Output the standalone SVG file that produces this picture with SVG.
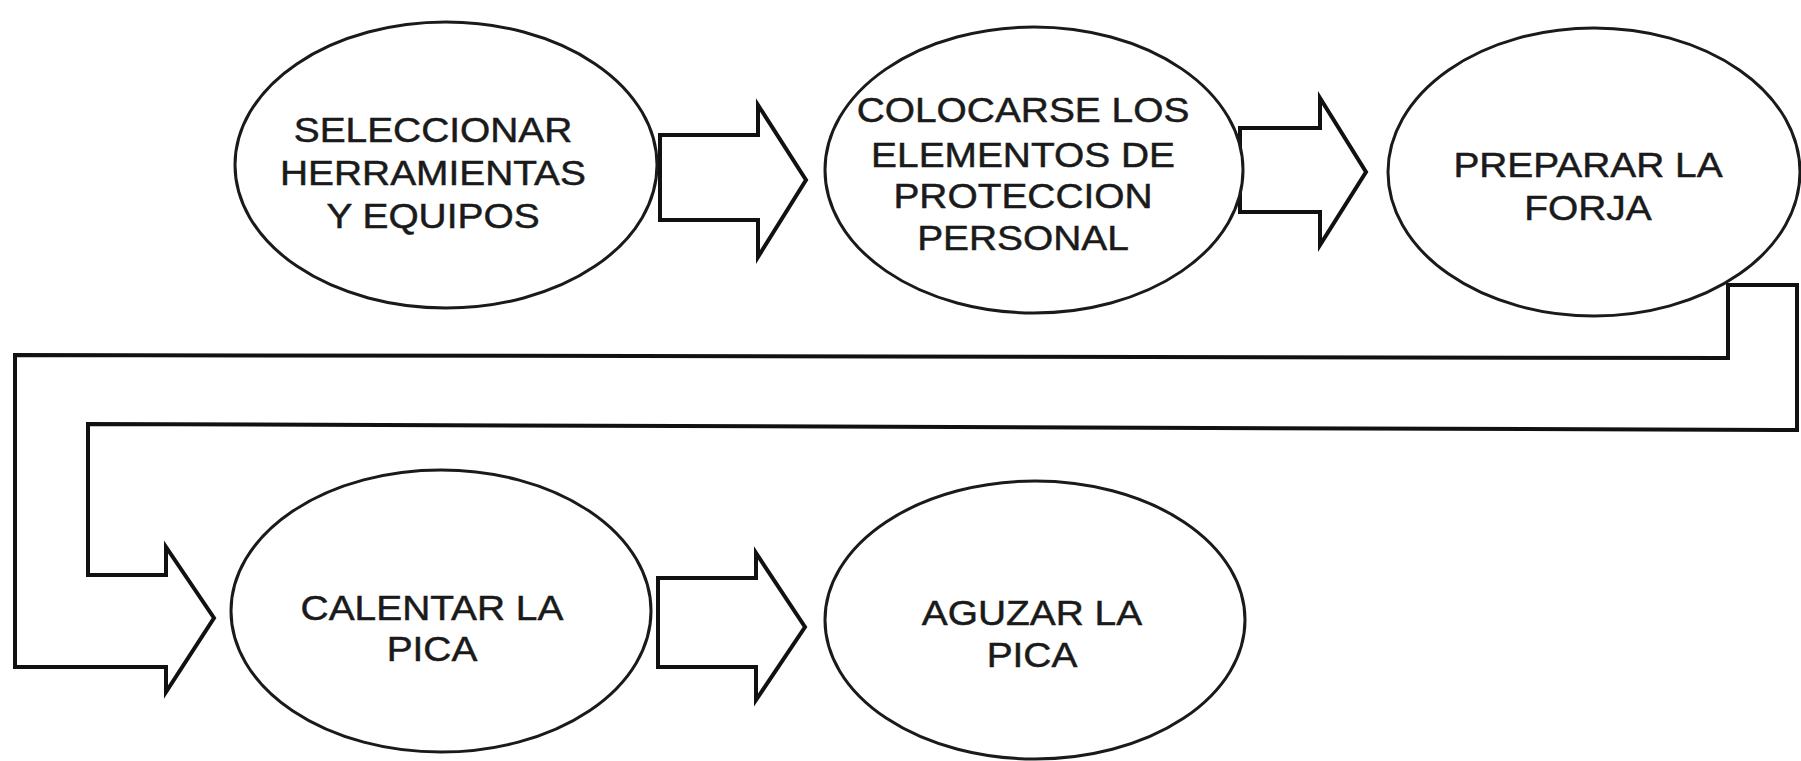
<svg xmlns="http://www.w3.org/2000/svg" width="1801" height="761" viewBox="0 0 1801 761">
<style>
.node ellipse{fill:#fff;stroke:#1a1a1a;stroke-width:3}
.node text{font-family:"Liberation Sans",Arial,sans-serif;font-size:36px;fill:#1a1a1a;stroke:#1a1a1a;stroke-width:0.5;text-anchor:middle}
.conn polygon{fill:#fff;stroke:#111;stroke-width:4;stroke-linejoin:miter}
</style>
<rect width="1801" height="761" fill="#fff"/>
<g id="connectors" class="conn">
<polygon points="660,135 758,135 758,105 806,180 758,257 758,220 660,220"/>
<polygon points="1240,128 1320,128 1320,98 1366,172 1320,245 1320,212 1240,212"/>
<polygon points="1728,285 1797,285 1797,430 88,424 88,575 166,575 166,547 214,618 166,692 166,667 15,667 15,355 1728,358"/>
<polygon points="658,578 756,578 756,553 805,627 756,700 756,667 658,667"/>
</g>
<g id="n1" class="node">
<ellipse cx="446" cy="165" rx="211" ry="143"/>
<g transform="translate(433 0) scale(1.08 1)">
<text x="0" y="142">SELECCIONAR</text>
<text x="0" y="185">HERRAMIENTAS</text>
<text x="0" y="228">Y EQUIPOS</text>
</g>
</g>
<g id="n2" class="node">
<ellipse cx="1034" cy="170" rx="209" ry="143"/>
<g transform="translate(1023 0) scale(1.08 1)">
<text x="0" y="122">COLOCARSE LOS</text>
<text x="0" y="167">ELEMENTOS DE</text>
<text x="0" y="208">PROTECCION</text>
<text x="0" y="250">PERSONAL</text>
</g>
</g>
<g id="n3" class="node">
<ellipse cx="1594" cy="172" rx="206" ry="144"/>
<g transform="translate(1588 0) scale(1.08 1)">
<text x="0" y="177">PREPARAR LA</text>
<text x="0" y="220">FORJA</text>
</g>
</g>
<g id="n4" class="node">
<ellipse cx="441" cy="611" rx="210" ry="141"/>
<g transform="translate(432 0) scale(1.08 1)">
<text x="0" y="620">CALENTAR LA</text>
<text x="0" y="661">PICA</text>
</g>
</g>
<g id="n5" class="node">
<ellipse cx="1035" cy="620" rx="210" ry="139"/>
<g transform="translate(1032 0) scale(1.08 1)">
<text x="0" y="625">AGUZAR LA</text>
<text x="0" y="667">PICA</text>
</g>
</g>
</svg>
